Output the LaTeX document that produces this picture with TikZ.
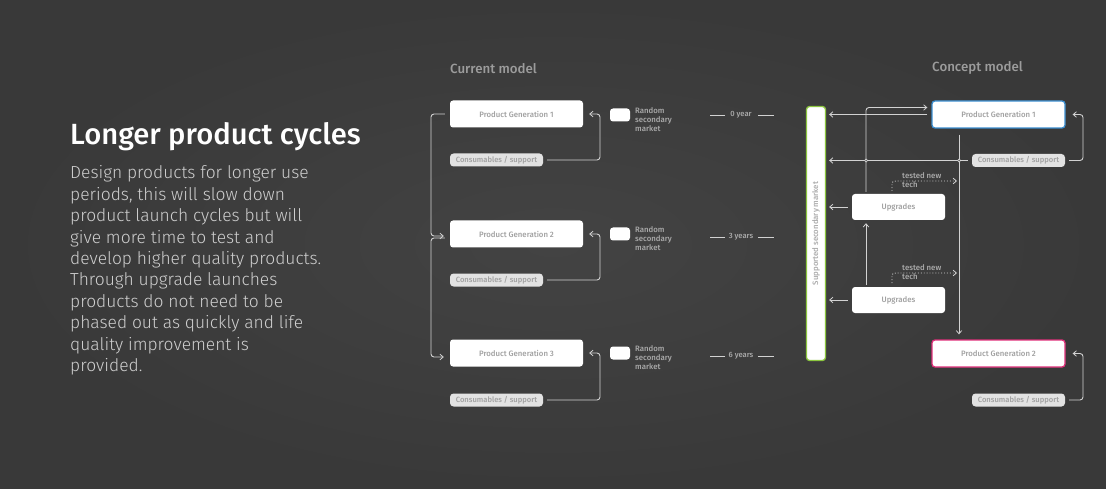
\documentclass[tikz,border=0pt]{standalone}
\usepackage{fontspec}
\setmainfont{Fira Sans}
\newfontfamily\firalight{Fira Sans Light}
\newfontfamily\firamed{Fira Sans Medium}
\usetikzlibrary{arrows.meta,positioning}
\definecolor{bgin}{HTML}{434343}
\definecolor{bgout}{HTML}{393939}
\definecolor{ln}{HTML}{D2D2D2}
\definecolor{boxtxt}{HTML}{A0A0A0}
\definecolor{cons}{HTML}{E2E2E2}
\definecolor{headc}{HTML}{9C9C9C}
\definecolor{bodyc}{HTML}{CFCFCF}
\definecolor{lblc}{HTML}{ABABAB}
\definecolor{greenb}{HTML}{8CC63F}
\definecolor{blueb}{HTML}{3B8ED0}
\definecolor{pinkb}{HTML}{E0307A}
\tikzset{
  x=1pt,y=-1pt,
  genbox/.style={draw=none,fill=white,rounded corners=3pt,minimum width=133pt,minimum height=27pt,inner sep=0pt,font=\firamed\fontsize{7.8}{9}\selectfont,text=boxtxt},
  consbox/.style={fill=cons,rounded corners=3.5pt,minimum width=93pt,minimum height=13pt,inner sep=0pt,font=\firamed\fontsize{7.6}{9}\selectfont,text=boxtxt},
  upbox/.style={fill=white,rounded corners=3pt,minimum width=93pt,minimum height=26pt,inner sep=0pt,font=\firamed\fontsize{7.8}{9}\selectfont,text=boxtxt},
  rsmbox/.style={fill=white,rounded corners=3pt,minimum width=20pt,minimum height=13pt,inner sep=0pt},
  rsmtxt/.style={anchor=north west,align=left,inner sep=0pt,font=\firamed\fontsize{7.8}{9}\selectfont,text=lblc},
  yrtxt/.style={inner sep=0pt,font=\firamed\fontsize{7.6}{9}\selectfont,text=lblc},
  conn/.style={draw=ln,line width=0.9pt,rounded corners=3pt},
  arr/.style={conn,-{Straight Barb[length=3.2pt,width=5.5pt,line width=0.8pt]}},
  dotarr/.style={draw=ln,line width=0.9pt,dotted,-{Straight Barb[length=3.2pt,width=5.5pt,line width=0.8pt]}},
  head/.style={inner sep=0pt,anchor=west,font=\firamed\fontsize{13.3}{15}\selectfont,text=headc},
  junc/.style={circle,draw=ln,fill=bgin,line width=0.7pt,minimum size=3pt,inner sep=0pt},
}
\begin{document}
\begin{tikzpicture}
\useasboundingbox (0,0) rectangle (1106,489);
\shade[inner color=bgin,outer color=bgout] (0,0) rectangle (1106,489);

% left text
\node[anchor=base west,inner sep=0pt,text=white,font=\firamed\fontsize{29.2}{34}\selectfont] (title) at (70,145) {Longer product cycles};
\node[anchor=north west,inner sep=0pt,align=left,text=bodyc,font=\firalight\fontsize{17.4}{21.4}\selectfont] (body) at (70,165.5)
{Design products for longer use\\periods, this will slow down\\product launch cycles but will\\give more time to test and\\develop higher quality products.\\Through upgrade launches\\products do not need to be\\phased out as quickly and life\\quality improvement is\\provided.};

% headings
\node[head] (curh) at (450,69) {Current model};
\node[head] (conh) at (932,68) {Concept model};

% current model
\foreach \i/\y/\cy/\ry/\yr/\yy in {1/114/160/115/0 year/115, 2/234/280/234/3 years/237, 3/353/400/353/6 years/356}{
  \node[genbox] (pg\i) at (516.5,\y) {Product Generation \i};
  \node[consbox] (cs\i) at (496.5,\cy) {Consumables / support};
  \node[rsmbox] (rsm\i) at (620,\ry) {};
  \node[rsmtxt] (rsmt\i) at (635,\ry-8) {Random\\secondary\\market};
  \node[yrtxt] (yr\i) at (741,\yy) {\yr};
  \draw[conn] ([xshift=-16pt]yr\i.center) -- ++(-15,0) coordinate (yl\i);
  \draw[conn] ([xshift=17pt]yr\i.center) -- ++(16,0) coordinate (yrr\i);
  \draw[arr] ([xshift=4pt]cs\i.east) -| (600,\y) -- ([xshift=6pt]pg\i.east);
}
\draw[arr] ([xshift=-5pt]pg1.west) -| (431,236) -- ([xshift=-6pt,yshift=-2pt]pg2.west);
\draw[arr] ([xshift=-5pt,yshift=-4pt]pg2.west) -| (431,357) -- ([xshift=-6pt,yshift=-4pt]pg3.west);

% concept model
\node[draw=greenb,line width=1.3pt,fill=white,rounded corners=3pt,minimum width=19pt,minimum height=254pt,inner sep=0pt] (bar) at (816,233.5) {};
\node[rotate=90,inner sep=0pt,font=\firamed\fontsize{7.8}{9}\selectfont,text=lblc] (bart) at (816,233.5) {Supported secondary market};

\node[genbox,draw=blueb,line width=1.3pt] (cpg1) at (998.5,114.5) {Product Generation 1};
\node[consbox] (ccs1) at (1018.5,160.5) {Consumables / support};
\node[upbox] (up1) at (898.5,207) {Upgrades};
\node[upbox] (up2) at (898.5,300) {Upgrades};
\node[genbox,draw=pinkb,line width=1.3pt] (cpg2) at (998.5,353.5) {Product Generation 2};
\node[consbox] (ccs2) at (1018.5,400) {Consumables / support};

\coordinate (xa) at (866,0);
\coordinate (xb) at (959,0);
\draw[arr] ([xshift=-4pt]cpg1.west) -- ([xshift=3pt]bar.east |- cpg1.west);
\draw[arr] ([xshift=-4pt]ccs1.west) -- ([xshift=3pt]bar.east |- ccs1.west);
\draw[arr] ([xshift=-4pt]up1.west) -- ([xshift=3pt]bar.east |- up1.west);
\draw[arr] ([xshift=-4pt]up2.west) -- ([xshift=3pt]bar.east |- up2.west);
\draw[arr] ([yshift=2pt]up1.north -| xa) |- ([xshift=-4pt,yshift=7pt]cpg1.west);
\draw[arr] ([yshift=2pt]up2.north -| xa) -- ([yshift=-3pt]up1.south -| xa);
\draw[arr] ([yshift=-6pt]cpg1.south -| xb) -- ([yshift=5pt]cpg2.north -| xb);
\draw[arr] ([xshift=4pt]ccs1.east) -| (1083,114.5) -- ([xshift=7pt]cpg1.east);
\draw[arr] ([xshift=4pt]ccs2.east) -| (1083,353.5) -- ([xshift=7pt]cpg2.east);
\node[junc] (j1) at (866,160.5) {};
\node[junc] (j2) at (959,160.5) {};

\foreach \u/\yy in {up1/181, up2/273}{
  \coordinate (ds\u) at (892,\yy+10);
  \draw[dotarr] (ds\u) -- (892,\yy+2) to[out=90,in=180] (896,\yy) -- (957,\yy);
  \node[anchor=north west,inner sep=0pt,align=left,font=\firamed\fontsize{7.8}{9}\selectfont,text=lblc] (tn\u) at (902,\yy-8.5) {tested new\\tech};
}
\end{tikzpicture}
\end{document}
